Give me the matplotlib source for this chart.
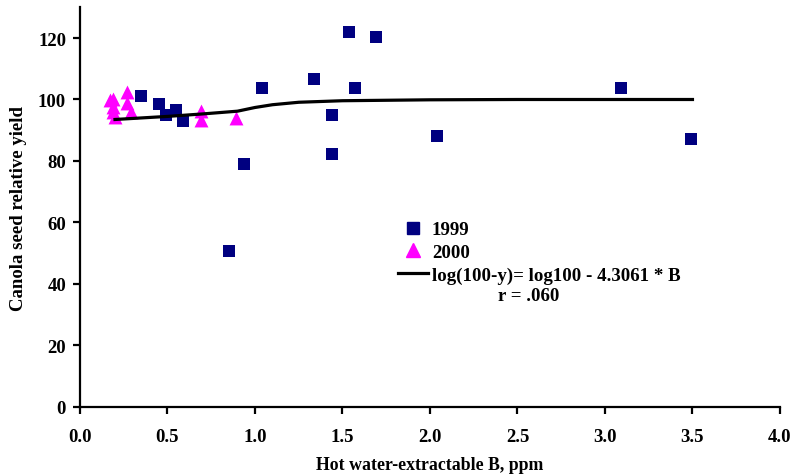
import matplotlib
matplotlib.use("Agg")
import matplotlib.pyplot as plt
from matplotlib.lines import Line2D

plt.rcParams['font.family'] = ['Liberation Serif', 'DejaVu Serif']
plt.rcParams['font.weight'] = 'bold'

# 1999 data (squares)
b_1999 = [0.35, 0.45, 0.49, 0.55, 0.59, 0.85, 0.94, 1.04, 1.34, 1.44, 1.44, 1.54, 1.57, 1.69, 2.04, 3.09, 3.49]
y_1999 = [101.1, 98.5, 94.8, 96.5, 93.1, 50.6, 79.0, 103.7, 106.6, 95.0, 82.2, 122.0, 103.7, 120.4, 88.1, 103.6, 87.1]

# 2000 data (triangles)
b_2000 = [0.17, 0.19, 0.19, 0.19, 0.20, 0.27, 0.27, 0.29, 0.69, 0.69, 0.89]
y_2000 = [99.8, 100.0, 97.5, 96.0, 94.2, 102.3, 99.0, 96.0, 96.2, 93.2, 94.0]

# fitted curve
fit_b = [0.20, 0.35, 0.50, 0.70, 0.90, 1.00, 1.10, 1.25, 1.50, 2.00, 2.50, 3.50]
fit_y = [93.5, 94.0, 94.5, 95.3, 96.2, 97.4, 98.3, 99.1, 99.6, 99.9, 100.0, 100.0]

xticks = [0.0, 0.5, 1.0, 1.5, 2.0, 2.5, 3.0, 3.5, 4.0]
yticks = [0, 20, 40, 60, 80, 100, 120]

fig = plt.figure(figsize=(7.92, 4.77), dpi=100)
ax = fig.add_axes([0.101, 0.1447, 0.8838, 0.838])

ax.scatter(b_1999, y_1999, marker='s', s=85, color='#000080', zorder=3, linewidths=0)
ax.scatter(b_2000, y_2000, marker='^', s=100, color='#FF00FF', zorder=4, linewidths=0)
ax.plot(fit_b, fit_y, color='black', lw=2.3, zorder=5)

ax.set_xlim(0, 4.0)
ax.set_ylim(0, 130)
ax.set_xticks(xticks)
ax.set_xticklabels([f"{t:.1f}" for t in xticks])
ax.set_yticks(yticks)
ax.set_yticklabels([str(t) for t in yticks])
for s in ['top', 'right']:
    ax.spines[s].set_visible(False)
for s in ['left', 'bottom']:
    ax.spines[s].set_linewidth(1.6)
ax.tick_params(direction='out', width=1.6, length=5, labelsize=13.5)
ax.tick_params(axis='x', pad=10)
ax.tick_params(axis='y', pad=5)
for lab in ax.get_xticklabels() + ax.get_yticklabels():
    lab.set_fontweight('bold')

ax.set_xlabel('Hot water-extractable B, ppm', fontsize=12.8, fontweight='bold', labelpad=8)
ax.set_ylabel('Canola seed relative yield', fontsize=13.5, fontweight='bold', labelpad=8)

handles = [
    Line2D([], [], marker='s', color='#000080', linestyle='None', markersize=8.5),
    Line2D([], [], marker='^', color='#FF00FF', linestyle='None', markersize=10),
    Line2D([], [], color='black', lw=2.3),
]
labels = ['1999', '2000', 'log(100-y)= log100 - 4.3061 * B']
leg = ax.legend(handles, labels, loc='upper left', bbox_to_anchor=(398/792, 1 - 222/477),
                bbox_transform=fig.transFigure, frameon=False, fontsize=13.6,
                handlelength=1.6, handletextpad=0.2, labelspacing=0.3, borderpad=0,
                borderaxespad=0)
for t in leg.get_texts():
    t.set_fontweight('bold')
fig.text(529/792, 1 - 297/477, 'r = .060', fontsize=13.6, fontweight='bold', ha='center', va='center')

fig.savefig('out.png', dpi=100)
